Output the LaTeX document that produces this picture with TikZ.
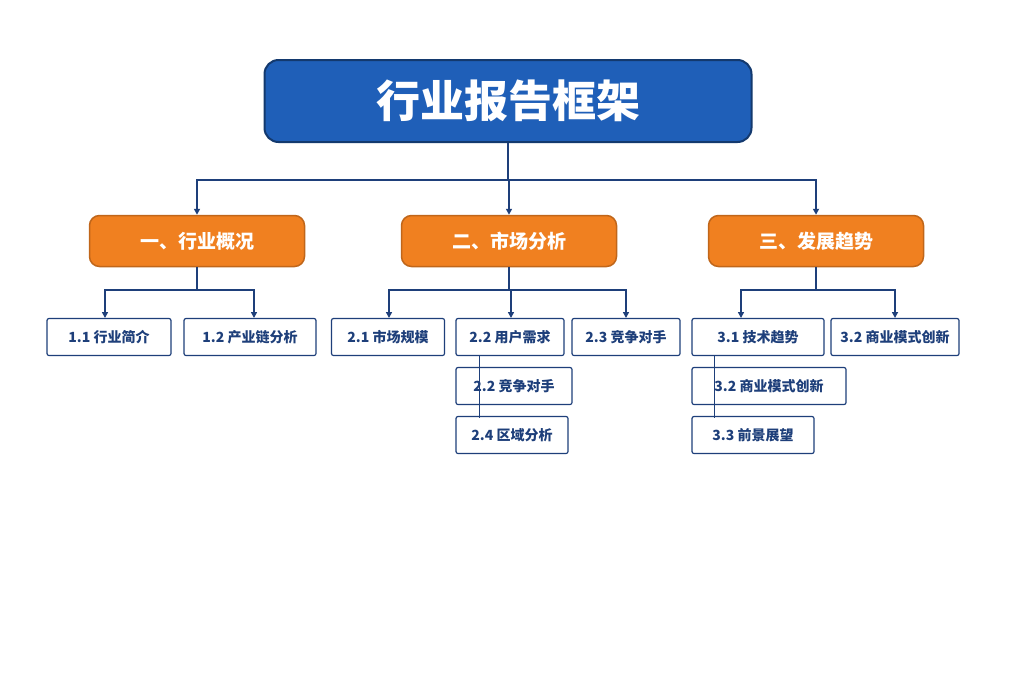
\documentclass[tikz,border=0pt]{standalone}
\usepackage{fontspec}
\newfontfamily\cjk{Noto Sans CJK SC}
\usetikzlibrary{arrows.meta}
\definecolor{titleblue}{HTML}{1F5FB8}
\definecolor{darkblue}{HTML}{1E3F7A}
\definecolor{boxorange}{HTML}{F08020}
\tikzset{
  titlebox/.style={draw=titleblue!60!black,line width=2pt,fill=titleblue,rounded corners=14pt,
    text=white,font=\cjk\bfseries\fontsize{44}{50}\selectfont,minimum width=487pt,minimum height=82pt},
  partbox/.style={draw=boxorange!80!black,line width=1.5pt,fill=boxorange,rounded corners=10pt,
    text=white,font=\cjk\bfseries\fontsize{19}{22}\selectfont,minimum width=215pt,minimum height=51pt},
  itembox/.style={draw=darkblue,line width=1.2pt,fill=white,rounded corners=2pt,
    text=darkblue,font=\cjk\bfseries\fontsize{14}{16}\selectfont,minimum height=37pt,inner xsep=4pt},
  link/.style={draw=darkblue,line width=1.5pt},
  arr/.style={link,-{Triangle[length=6pt,width=6pt]}}
}
\begin{document}
\begin{tikzpicture}[x=1pt,y=-1pt]
  \useasboundingbox[fill=white] (0,0) rectangle (1024,683);
  \node[titlebox] (title) at (508,101) {行业报告框架};
  \node[partbox] (p1) at (197,241) {一、行业概况};
  \node[partbox] (p2) at (509,241) {二、市场分析};
  \node[partbox] (p3) at (816,241) {三、发展趋势};
  % items
  \node[itembox,minimum width=124pt] (i11) at (109,337) {1.1 行业简介};
  \node[itembox,minimum width=132pt] (i12) at (250,337) {1.2 产业链分析};
  \node[itembox,minimum width=113pt] (i21) at (388,337) {2.1 市场规模};
  \node[itembox,minimum width=108pt] (i22) at (510,337) {2.2 用户需求};
  \node[itembox,minimum width=108pt] (i23) at (626,337) {2.3 竞争对手};
  \node[itembox,minimum width=116pt] (i22b) at (514,386) {2.2 竞争对手};
  \node[itembox,minimum width=112pt] (i24) at (512,435) {2.4 区域分析};
  \node[itembox,minimum width=132pt] (i31) at (758,337) {3.1 技术趋势};
  \node[itembox,minimum width=128pt] (i32) at (895,337) {3.2 商业模式创新};
  \node[itembox,minimum width=154pt] (i32b) at (769,386) {3.2 商业模式创新};
  \node[itembox,minimum width=122pt] (i33) at (753,435) {3.3 前景展望};
  % connectors
  \coordinate (b0) at (508,180);
  \draw[link] (title.south) -- (b0);
  \foreach \p in {p1,p2,p3} \draw[arr] (b0) -| (\p.north);
  \coordinate (b1) at (197,290);
  \draw[link] (p1.south) -- (b1);
  \foreach \c/\x in {i11/105,i12/254} \draw[arr] (b1) -| (\x,318);
  \coordinate (b2) at (509,290);
  \draw[link] (p2.south) -- (b2);
  \foreach \x in {389,511,626} \draw[arr] (b2) -| (\x,318);
  \coordinate (b3) at (816,290);
  \draw[link] (p3.south) -- (b3);
  \foreach \x in {741,895} \draw[arr] (b3) -| (\x,318);
  \draw[link,line width=1pt] (479,355) -- (479,418);
  \draw[link,line width=1pt] (714,355) -- (714,418);
\end{tikzpicture}
\end{document}
